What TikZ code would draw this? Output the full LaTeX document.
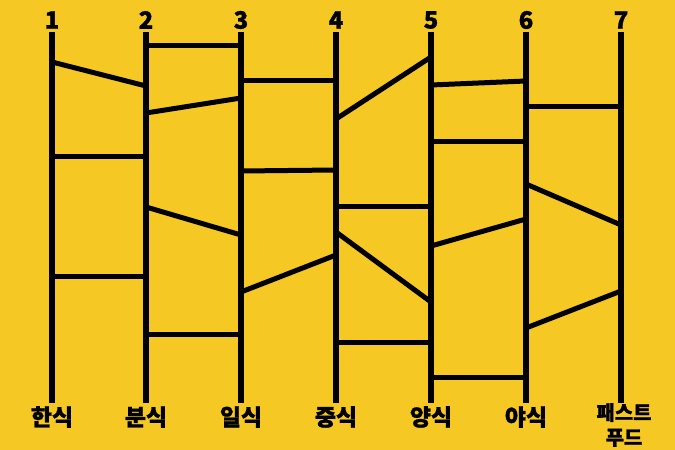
\documentclass[tikz,border=0pt]{standalone}
\usepackage{fontspec}
\newfontfamily\kr[FakeBold=1.2]{Noto Sans CJK KR}
\definecolor{bgyellow}{RGB}{246,200,35}
\begin{document}
\begin{tikzpicture}[x=1bp,y=-1bp,
  rail/.style={line width=6bp,black},
  rung/.style={line width=5bp,black},
  numlab/.style={font=\kr\bfseries\fontsize{24}{24}\selectfont,inner sep=0pt},
  foodlab/.style={font=\kr\bfseries\fontsize{23}{23}\selectfont,inner sep=0pt},
  smalllab/.style={font=\kr\bfseries\fontsize{20}{25}\selectfont,inner sep=0pt,align=center}]
\fill[bgyellow] (0,0) rectangle (675,450);
\useasboundingbox (0,0) rectangle (675,450);
% rails
\foreach \i/\x in {1/52,2/146,3/241,4/336,5/431,6/526,7/621}{
  \coordinate (t\i) at (\x,32);
  \coordinate (b\i) at (\x,403);
  \draw[rail] (t\i) -- (b\i);
}
% numbers
\foreach \i/\x in {1/52,2/146,3/241,4/336,5/431,6/526,7/621}{
  \node[numlab] (n\i) at (\x,20) {\i};
}
% food labels
\node[foodlab] (f1) at (52,417) {한식};
\node[foodlab] (f2) at (146,417) {분식};
\node[foodlab] (f3) at (241,417) {일식};
\node[foodlab] (f4) at (336,417) {중식};
\node[foodlab] (f5) at (431,417) {양식};
\node[foodlab] (f6) at (526,417) {야식};
\node[smalllab] (f7) at (624,425) {패스트\\푸드};
% rungs 1-2
\draw[rung] (t1 |- 0,62) -- (t2 |- 0,86);
\draw[rung] (t1 |- 0,157) -- (t2 |- 0,157);
\draw[rung] (t1 |- 0,277) -- (t2 |- 0,277);
% rungs 2-3
\draw[rung] (t2 |- 0,46) -- (t3 |- 0,46);
\draw[rung] (t2 |- 0,113) -- (t3 |- 0,98);
\draw[rung] (t2 |- 0,207) -- (t3 |- 0,235);
\draw[rung] (t2 |- 0,334) -- (t3 |- 0,334);
% rungs 3-4
\draw[rung] (t3 |- 0,81) -- (t4 |- 0,81);
\draw[rung] (t3 |- 0,171) -- (t4 |- 0,170);
\draw[rung] (t3 |- 0,292) -- (t4 |- 0,255);
% rungs 4-5
\draw[rung] (t4 |- 0,119) -- (t5 |- 0,57);
\draw[rung] (t4 |- 0,207) -- (t5 |- 0,207);
\draw[rung] (t4 |- 0,232) -- (t5 |- 0,302);
\draw[rung] (t4 |- 0,342) -- (t5 |- 0,342);
% rungs 5-6
\draw[rung] (t5 |- 0,85) -- (t6 |- 0,81);
\draw[rung] (t5 |- 0,142) -- (t6 |- 0,142);
\draw[rung] (t5 |- 0,246) -- (t6 |- 0,219);
\draw[rung] (t5 |- 0,377) -- (t6 |- 0,377);
% rungs 6-7
\draw[rung] (t6 |- 0,107) -- (t7 |- 0,107);
\draw[rung] (t6 |- 0,184) -- (t7 |- 0,225);
\draw[rung] (t6 |- 0,328) -- (t7 |- 0,291);
\end{tikzpicture}
\end{document}
